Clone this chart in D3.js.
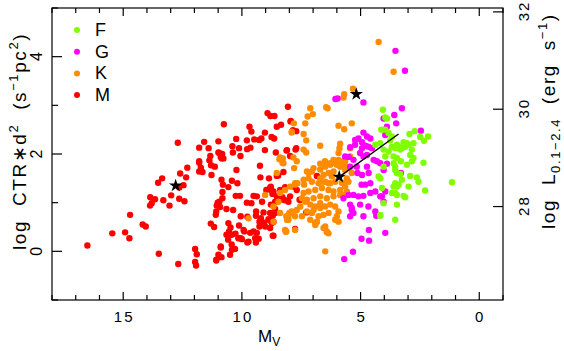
<!DOCTYPE html>
<html>
<head>
<meta charset="utf-8">
<script src="https://cdn.jsdelivr.net/npm/d3@7"></script>
<style>
  body { margin: 0; background: #fff; }
  svg text { font-family: "Liberation Sans", Arial, sans-serif; fill: #000; }
</style>
</head>
<body>
<svg id="chart" width="564" height="351"></svg>
<script>
// spectral type samples: [M_V, log CTR*d^2]
const fStars = [
  [2.94,2.41],[2.72,2.47],[2.49,2.35],[2.33,2.27],[2.16,2.36],[3.19,2.24],[3.05,2.22],[2.98,2.19],[3.12,2.15],
  [3.26,2.12],[3.4,2.15],[3.47,2.19],[3.54,2.12],[3.33,2.09],[2.77,2.22],[2.84,2.09],[2.91,1.98],[2.77,1.92],
  [3.05,1.78],[2.84,1.85],[2.35,1.82],[3.47,1.92],[3.54,1.74],[3.47,1.61],[3.33,1.59],[2.91,1.55],[2.63,1.52],
  [2.56,1.43],[3.54,1.40],[3.47,1.33],[3.4,1.37],[2.98,1.33],[2.28,1.25],[3.54,1.20],[3.47,1.16],[3.19,1.14],
  [3.12,1.11],[3.47,0.96],[3.54,0.65],[1.15,1.42],[4.06,2.91],[3.96,2.75],[3.89,2.73],[4.13,2.50],[3.96,2.50],
  [3.82,2.43],[3.68,2.36],[4.17,2.22],[4.03,2.09],[3.82,2.05],[3.68,2.15],[3.96,1.95],[3.61,1.95],[4.03,1.74],
  [4.17,1.50],[3.61,1.81],[3.54,1.67],[3.26,1.47],[3.68,1.20],[3.61,1.33],[4.1,1.30],[4.03,0.99],[4.17,0.73],
  [4.38,2.19],[4.24,1.54],[4.17,0.75],[3.75,2.28],[3.3,1.85]
];
const gStars = [
  [3.53,4.12],[3.13,3.71],[6.06,3.13],[5.97,3.14],[4.88,3.06],[3.26,2.94],[3.58,2.8],[4.03,2.73],[3.5,2.63],
  [3.89,2.56],[3.96,2.39],[2.46,2.48],[4.88,2.44],[5.23,2.29],[5.09,2.32],[4.94,2.24],[4.73,2.36],[4.59,2.32],
  [4.8,2.17],[4.67,2.15],[4.52,2.12],[4.94,2.12],[5.23,2.19],[5.02,2.02],[4.88,1.95],[4.73,1.98],[5.44,2.14],
  [5.65,1.95],[5.51,1.94],[5.3,1.88],[5.44,1.74],[5.16,1.74],[5.13,1.61],[4.94,1.57],[4.73,1.74],[4.66,1.61],
  [4.45,1.88],[4.31,1.85],[4.17,1.81],[4.03,1.67],[3.89,1.80],[3.3,1.61],[4.96,1.37],[4.8,1.37],[4.59,1.40],
  [5.3,1.16],[5.09,1.13],[4.88,1.14],[4.59,1.20],[4.38,1.23],[4.17,1.13],[3.96,1.23],[4.03,1.02],[5.44,0.96],
  [5.37,0.85],[5.3,0.79],[5.44,0.72],[5.02,0.96],[4.88,0.72],[4.67,0.92],[4.38,0.82],[4.34,0.73],[3.96,0.38],
  [4.65,0.44],[4.96,0.26],[4.64,0.22],[5.32,-0.01],[5.69,-0.16],[5.72,1.09],[5.51,1.16],[5.37,0.89],[4.1,1.13]
];
const kStars = [
  [4.24,4.30],[3.61,3.69],[5.32,3.34],[5.69,3.23],[5.72,3.16],[6.45,2.96],[6.39,2.94],[7.12,2.94],[7.01,2.82],
  [7.23,2.77],[7.33,2.63],[7.4,2.41],[5.37,2.63],[5.93,2.58],[5.69,2.51],[7.9,2.44],[7.29,2.28],[6.7,2.17],
  [5.86,2.21],[5.89,2.12],[5.44,2.12],[5.93,2.02],[7.29,2.03],[8.39,1.93],[8.25,1.81],[8.27,1.91],[7.83,1.93],
  [7.69,1.85],[7.8,1.71],[5.44,1.95],[6.49,0.0],[6.0,0.72],[5.93,0.61],[6.07,0.65],[6.49,0.51],[6.42,0.41],
  [6.35,0.37],[6.84,0.61],[6.91,0.54],[7.12,0.65],[7.76,0.72],[8.04,0.65],[8.18,0.44],[8.13,0.41],[8.53,1.61],
  [7.19,1.61],[7.05,1.64],[6.7,1.68],[6.49,1.74],[6.28,1.78],[6.07,1.81],[5.93,1.88],[5.79,1.78],[5.65,1.85],
  [5.58,1.74],[8.67,0.92],[8.46,1.02],[8.39,0.79],[8.13,0.72],[8.08,0.65],[8.0,0.79],[7.69,0.85],[7.54,0.92],
  [7.33,1.02],[7.66,1.40],[7.38,1.37],[7.05,1.43],[6.77,1.40],[6.56,1.43],[6.28,1.40],[6.07,1.43],[5.79,1.41],
  [5.65,1.33],[5.86,1.26],[6.14,1.23],[6.35,1.26],[6.63,1.30],[6.91,1.26],[7.19,1.23],[7.4,1.20],[7.47,1.09],
  [7.26,1.06],[6.98,1.09],[6.7,1.13],[6.42,1.09],[6.14,1.13],[5.86,1.16],[5.72,1.16],[5.58,1.23],[7.12,0.96],
  [6.91,0.92],[6.7,0.89],[6.49,0.92],[6.28,0.96],[6.07,0.92],[5.93,0.82],[6.35,0.79],[6.56,0.75],[6.77,0.72],
  [6.98,0.85],[7.26,0.82],[7.05,0.79],[6.84,0.61],[6.56,0.48],[6.42,0.39],[6.91,0.58],[7.47,0.72],[6.7,0.99],
  [6.7,1.80],[6.5,1.85],[6.28,1.81],[6.14,1.88],[6.0,1.78],[5.86,1.74],[5.72,1.85],[5.65,1.67],[6.14,1.64],
  [6.35,1.61],[6.56,1.57],[6.21,1.54],[5.51,1.71],[5.37,1.61],[5.58,1.50],[7.26,1.64],[6.98,1.71],[7.4,1.47],
  [7.19,1.50],[6.7,1.50],[6.49,1.43],[5.72,1.40],[5.51,1.43],[6.35,1.40],[9.02,1.16],[8.39,1.2],[8.18,1.26],
  [7.97,1.33],[7.76,1.37],[8.04,0.72],[7.97,0.79],[7.9,0.82],[8.1,0.65],[8.15,0.40],[7.76,0.44],[9.72,0.68],
  [8.67,0.61],[7.81,2.63],[7.9,2.46],[8.29,1.82],[7.76,1.40],[7.4,2.09],[8.42,1.89]
];
const mStars = [
  [12.7,2.23],[11.8,2.13],[12.3,1.72],[12.6,1.6],[12.35,1.52],[11.8,1.82],[11.8,1.64],[13.36,1.5],[13.53,1.41],
  [12.46,1.36],[12.64,1.31],[12.98,1.15],[13.86,1.11],[13.66,1.07],[13.31,1.05],[12.64,1.08],[12.42,1.03],[13.8,0.99],
  [13.87,0.94],[13.05,0.94],[14.71,0.75],[14.18,0.55],[14.05,0.51],[15.46,0.37],[14.92,0.39],[14.74,0.27],[16.51,0.12],
  [13.5,-0.05],[12.68,-0.26],[11.97,0.05],[11.9,-0.06],[11.97,-0.22],[11.93,-0.29],
  [8.92,2.84],[8.8,2.78],[8.63,2.78],[10.76,2.61],[9.68,2.56],[9.6,2.46],[9.03,2.44],[8.75,2.35],[8.64,2.32],
  [10.24,2.31],[9.79,2.28],[9.48,2.30],[9.27,2.29],[9.18,2.32],[11.59,2.25],[10.99,2.26],[11.4,2.12],[10.4,2.16],
  [10.12,2.12],[9.78,2.1],[9.64,2.13],[9.03,2.08],[10.99,2.03],[10.83,2.0],[10.89,1.94],[10.78,1.91],[10.06,1.96],
  [10.38,2.03],[8.57,2.03],[11.8,1.85],[11.73,1.72],[11.66,1.63],[11.3,1.77],[11.14,1.74],[10.23,1.67],[9.24,1.76],
  [8.47,1.56],[9.22,1.52],[11.28,1.57],[10.86,1.47],[10.8,1.37],[10.42,1.45],[10.19,1.40],[10.57,1.32],[8.86,1.5],
  [8.8,1.3],[8.97,1.26],[8.72,1.23],[10.82,1.22],[10.26,1.14],[10.08,1.14],[9.51,1.14],[9.37,1.13],[10.95,1.02],
  [11.06,0.94],[9.79,1.0],[9.6,0.99],[9.15,1.02],[10.65,0.87],[10.37,0.85],[11.1,0.75],[11.08,0.82],[10.05,0.72],
  [9.77,0.71],[9.41,0.73],[9.26,0.61],[8.8,0.63],[8.7,0.73],[11.31,0.57],[11.17,0.5],[10.57,0.58],[10.48,0.49],
  [10.54,0.41],[10.43,0.34],[10.27,0.36],[10.12,0.53],[9.93,0.44],[9.65,0.38],[9.51,0.41],[9.26,0.51],[10.05,0.27],
  [9.77,0.18],[9.41,0.18],[9.29,0.26],[10.43,0.14],[10.42,0.03],[10.5,-0.07],[10.89,0.08],[10.86,-0.12],[11.08,-0.19],
  [8.7,0.32],[8.06,2.97],[7.95,2.67],[8.53,2.56],[8.35,2.6],[8.12,2.07],[7.74,2.09],[11.33,1.96],[10.95,2.02],
  [10.85,1.91],[11.37,1.87],[7.97,1.96],[8.25,1.63],[8.78,1.33],[8.71,1.18],[8.49,1.08],[8.29,1.11],[8.18,1.05],
  [7.97,1.13],[11.02,1.0],[10.82,1.09],[10.92,0.91],[8.78,0.96],[8.6,0.87],[9.09,0.8],[9.4,0.82],[9.2,0.68],
  [9.06,0.59],[8.88,0.66],[9.02,0.51],[8.74,0.58],[8.6,0.79],[10.65,0.34],[10.58,0.24],[10.29,0.05],[10.15,0.27],
  [10.0,0.25],[9.9,0.41],[9.37,0.38],[9.44,0.27],[9.72,0.2],[10.89,0.1],[10.99,-0.07],[11.08,-0.17],
  [7.94,2.68],[7.85,2.49],[7.71,2.47],[8.1,2.08],[7.71,2.12],[8.53,1.55],[6.84,1.55],[8.18,1.32],[7.83,1.33],
  [7.69,1.26],[8.39,1.26],[8.67,1.23],[8.81,1.3],[8.6,1.02],[8.25,1.06],[8.04,1.02],[8.53,1.13],[7.57,1.06],
  [7.29,0.8],[7.76,0.46],[8.67,0.61],[8.81,0.79],[8.67,0.32],[8.81,0.48],[7.54,1.06]
];
const starMarks = [[5.18,3.23],[5.9,1.53],[12.79,1.35]];
const fitLine = [[5.9,1.53],[3.4,2.41]];

const legendTypes = ["F","G","K","M"];
const typeColors = ["#80ff00","#ff00ff","#ff8c00","#ff0000"];
const xTickVals = [15,10,5,0];
const yTickVals = [0,2,4];
const yRightTickVals = [28,30,32];
const lumOffset = 27.08; // log L - log CTR*d^2

const svg = d3.select("#chart");
const x = d3.scaleLinear().domain([18,-1]).range([52,503]);
const y = d3.scaleLinear().domain([-1,5]).range([300,8]);
const yR = d3.scaleLinear().domain([-1+lumOffset,5+lumOffset]).range([300,8]);

// points, M first so others sit on top
const groups = [mStars,kStars,gStars,fStars];
const groupCols = [typeColors[3],typeColors[2],typeColors[1],typeColors[0]];
groups.forEach(function(pts,i){
  svg.append("g").selectAll("circle").data(pts).enter().append("circle")
    .attr("cx",function(d){return x(d[0]);})
    .attr("cy",function(d){return y(d[1]);})
    .attr("r",3.2)
    .attr("fill",groupCols[i]);
});

svg.append("line")
  .attr("x1",x(fitLine[0][0])).attr("y1",y(fitLine[0][1]))
  .attr("x2",x(fitLine[1][0])).attr("y2",y(fitLine[1][1]))
  .attr("stroke","#000").attr("stroke-width",1.3);

svg.append("g").selectAll("path").data(starMarks).enter().append("path")
  .attr("d",d3.symbol().type(d3.symbolStar).size(55))
  .attr("transform",function(d){return "translate("+x(d[0])+","+y(d[1])+")";})
  .attr("fill","#000");

// frame + inward ticks
const ax = svg.append("g").attr("stroke","#000").attr("stroke-width",1.2).attr("fill","none");
ax.append("rect").attr("x",52).attr("y",8).attr("width",451).attr("height",292);
d3.range(-1,19).forEach(function(v){
  const len = (v%5===0) ? 8 : 5;
  ax.append("line").attr("x1",x(v)).attr("x2",x(v)).attr("y1",300).attr("y2",300-len);
  ax.append("line").attr("x1",x(v)).attr("x2",x(v)).attr("y1",8).attr("y2",8+len);
});
d3.range(-1,6).forEach(function(v){
  const len = (v%2===0) ? 10 : 6;
  ax.append("line").attr("x1",52).attr("x2",52+len).attr("y1",y(v)).attr("y2",y(v));
});
yRightTickVals.forEach(function(v){
  ax.append("line").attr("x1",503).attr("x2",493).attr("y1",yR(v)).attr("y2",yR(v));
});

// tick labels (wide, airy lettering like the original)
svg.append("g").selectAll("text").data(xTickVals).enter().append("text")
  .attr("x",function(d){return x(d)+1;}).attr("y",322)
  .attr("text-anchor","middle").attr("font-size",15).attr("letter-spacing",2)
  .text(function(d){return d;});
svg.append("g").selectAll("text").data(yTickVals).enter().append("text")
  .attr("transform",function(d){return "translate(41.5,"+y(d)+") rotate(-90)";})
  .attr("text-anchor","middle").attr("font-size",16)
  .text(function(d){return d;});
svg.append("g").selectAll("text").data(yRightTickVals).enter().append("text")
  .attr("transform",function(d){return "translate(528.5,"+(yR(d)-1)+") rotate(-90)";})
  .attr("text-anchor","middle").attr("font-size",15).attr("letter-spacing",2)
  .text(function(d){return d;});

// axis titles
const xt = svg.append("text").attr("x",258).attr("y",342).attr("font-size",17);
xt.append("tspan").text("M");
xt.append("tspan").attr("font-size",12).attr("dy",4).text("V");

const lt = svg.append("text").attr("transform","translate(26,250) rotate(-90)")
  .attr("font-size",19).attr("letter-spacing",1.6).attr("xml:space","preserve");
lt.append("tspan").text("log  CTR\u2217d");
lt.append("tspan").attr("font-size",13).attr("dy",-8).text("2");
lt.append("tspan").attr("dy",8).text("  (s");
lt.append("tspan").attr("font-size",13).attr("dy",-8).text("\u22121");
lt.append("tspan").attr("dy",8).text("pc");
lt.append("tspan").attr("font-size",13).attr("dy",-8).text("2");
lt.append("tspan").attr("dy",8).text(")");

const rt = svg.append("text").attr("transform","translate(555,229) rotate(-90)")
  .attr("font-size",19).attr("letter-spacing",1.6).attr("xml:space","preserve");
rt.append("tspan").text("log  L");
rt.append("tspan").attr("font-size",13).attr("dy",5).text("0.1\u22122.4");
rt.append("tspan").attr("dy",-5).text("  (erg  s");
rt.append("tspan").attr("font-size",13).attr("dy",-8).text("\u22121");
rt.append("tspan").attr("dy",8).text(")");

// legend
const leg = svg.append("g");
legendTypes.forEach(function(t,i){
  leg.append("circle").attr("cx",77).attr("cy",30+i*21.7).attr("r",3).attr("fill",typeColors[i]);
  leg.append("text").attr("x",95).attr("y",30+i*21.7+6).attr("font-size",18).text(t);
});
</script>
</body>
</html>
